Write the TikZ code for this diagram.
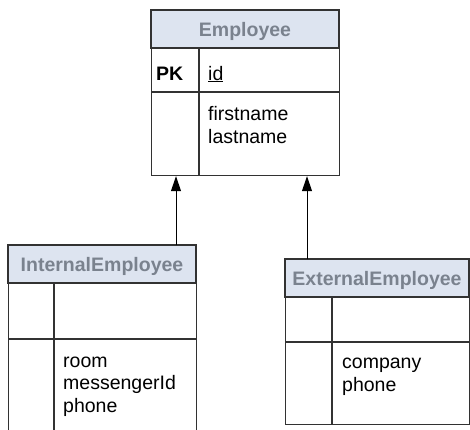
\documentclass[tikz,border=0pt]{standalone}
\usepackage{fontspec}
\setmainfont{Liberation Sans}
\usetikzlibrary{arrows.meta}
\definecolor{hdrfill}{RGB}{221,228,240}
\definecolor{hdrtext}{RGB}{122,130,142}
\definecolor{lncol}{RGB}{50,50,50}
\begin{document}
\begin{tikzpicture}[x=1pt,y=-1pt,
  tbl/.style={draw=lncol, line width=1.2pt, inner sep=0pt, anchor=north west},
  hdrbox/.style={fill=hdrfill, draw=lncol, line width=1.2pt},
  sep/.style={draw=lncol, line width=1.2pt},
  title/.style={font=\fontsize{19.5}{23}\selectfont\bfseries, text=hdrtext, inner sep=0pt, anchor=base},
  attr/.style={font=\fontsize{19.5}{23}\selectfont, inner sep=0pt, anchor=base west},
  pk/.style={font=\fontsize{19.5}{23}\selectfont\bfseries, inner sep=0pt, anchor=base west},
  inherit/.style={draw=black, line width=1pt, -{Triangle[length=15pt,width=10pt]}}
]
\clip (0,0) rectangle (470,429);
\fill[white] (0,0) rectangle (470,429);

% ---------- Employee ----------
\node[tbl, minimum width=188pt, minimum height=165pt] (emp) at (151,10) {};
\draw[hdrbox] (151,10) rectangle (339,48);
\node[title] (empT) at (245,36) {Employee};
\draw[sep] (151,92) -- (339,92);
\draw[sep] (199,48) -- (199,175);
\node[pk] (empPK) at (156,80) {PK};
\node[attr] (empId) at (208,80) {\underline{id}};
\node[attr] (empA1) at (208,120.5) {firstname};
\node[attr] (empA2) at (208,143.5) {lastname};

% ---------- InternalEmployee ----------
\node[tbl, minimum width=188pt, minimum height=200pt] (int) at (8,245) {};
\draw[hdrbox] (8,245) rectangle (196,283);
\node[title] (intT) at (102,271) {InternalEmployee};
\draw[sep] (8,339) -- (196,339);
\draw[sep] (54,283) -- (54,445);
\node[attr] (intA1) at (63,367) {room};
\node[attr] (intA2) at (63,389.5) {messengerId};
\node[attr] (intA3) at (63,412) {phone};

% ---------- ExternalEmployee ----------
\node[tbl, minimum width=184pt, minimum height=165pt] (ext) at (285,259) {};
\draw[hdrbox] (285,259) rectangle (469,297);
\node[title] (extT) at (377,285) {ExternalEmployee};
\draw[sep] (285,342) -- (469,342);
\draw[sep] (332,297) -- (332,424);
\node[attr] (extA1) at (342,368.5) {company};
\node[attr] (extA2) at (342,391.5) {phone};

% ---------- inheritance arrows ----------
\coordinate (c1) at (176,245);
\coordinate (c2) at (307,259);
\draw[inherit] (c1) -- (c1 |- emp.south);
\draw[inherit] (c2) -- (c2 |- emp.south);
\end{tikzpicture}
\end{document}
